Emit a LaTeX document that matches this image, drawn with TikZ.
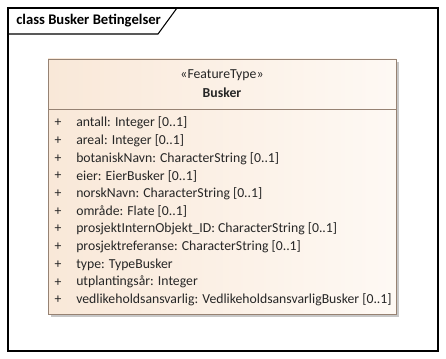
\documentclass[tikz,border=0pt]{standalone}
\usepackage{fontspec}
\setmainfont{Carlito}
\begin{document}
\begin{tikzpicture}[x=0.75pt,y=-0.75pt,
  frameline/.style={draw=black,line width=0.8pt},
  classbox/.style={draw=classborder,line width=0.6pt},
  attr/.style={anchor=west,inner sep=0pt,font=\fontsize{10.3pt}{12pt}\selectfont,text=black!85},
  plus/.style={anchor=center,inner sep=0pt,font=\fontsize{10.3pt}{12pt}\selectfont,text=black!85}]
\definecolor{classborder}{RGB}{150,130,115}
\definecolor{peach}{RGB}{249,232,216}
\definecolor{peachlight}{RGB}{254,249,244}
\useasboundingbox (0,0) rectangle (446,359);
\fill[white] (0,0) rectangle (446,359);
% diagram frame with its name tab
\draw[frameline] (8,8) rectangle (438,351);
\draw[frameline] (8,34) -- (158,34) -- (177,8);
\node[anchor=west,inner sep=0pt,font=\fontsize{11pt}{13pt}\selectfont\bfseries] (title) at (16,21) {class Busker Betingelser};
% class box: shadow, gradient fill, outline, compartment line
\fill[black!22] (51,62) rectangle (399,317);
\shade[left color=peach,right color=peachlight] (48,59) rectangle (396,314);
\draw[classbox] (48,59) rectangle (396,314);
\draw[classbox] (48,109) -- (396,109);
\node[inner sep=0pt,font=\fontsize{10.3pt}{12pt}\selectfont,text=black!85] (stereo) at (222,75) {«FeatureType»};
\node[inner sep=0pt,font=\fontsize{10.3pt}{12pt}\selectfont\bfseries,text=black!85] (name) at (222,93) {Busker};
% attributes
\foreach \i/\t in {0/{antall: Integer [0..1]},
  1/{areal: Integer [0..1]},
  2/{botaniskNavn: CharacterString [0..1]},
  3/{eier: EierBusker [0..1]},
  4/{norskNavn: CharacterString [0..1]},
  5/{område: Flate [0..1]},
  6/{prosjektInternObjekt\_ID: CharacterString [0..1]},
  7/{prosjektreferanse: CharacterString [0..1]},
  8/{type: TypeBusker},
  9/{utplantingsår: Integer},
  10/{vedlikeholdsansvarlig: VedlikeholdsansvarligBusker [0..1]}}{
  \node[plus] (p\i) at (58,123+17.7*\i) {+};
  \node[attr] (a\i) at (76,123+17.7*\i) {\t};
}
\end{tikzpicture}
\end{document}
